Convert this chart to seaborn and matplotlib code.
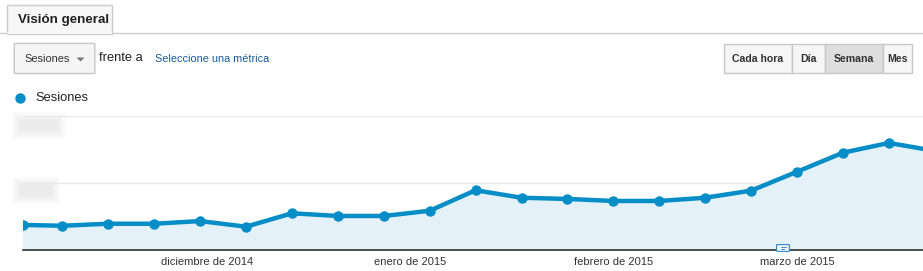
import matplotlib
matplotlib.use("Agg")
import matplotlib.pyplot as plt
from matplotlib.patches import Rectangle, FancyBboxPatch, Polygon
from matplotlib.lines import Line2D
import numpy as np
import pandas as pd
import seaborn as sns

# ---- data ----
week_dates = ["2014-11-03", "2014-11-09", "2014-11-16", "2014-11-23", "2014-11-30",
              "2014-12-07", "2014-12-14", "2014-12-21", "2014-12-28", "2015-01-04",
              "2015-01-11", "2015-01-18", "2015-01-25", "2015-02-01", "2015-02-08",
              "2015-02-15", "2015-02-22", "2015-03-01", "2015-03-08", "2015-03-15",
              "2015-03-22"]
sessions = [187, 181, 196, 196, 216, 174, 274, 254, 254, 293,
            446, 390, 381, 366, 366, 390, 443, 584, 726, 799, 740]
month_ticks = ["2014-12-01", "2015-01-01", "2015-02-01", "2015-03-01"]
month_labels = ["diciembre de 2014", "enero de 2015", "febrero de 2015", "marzo de 2015"]
metric_name = "Sesiones"
tab_title = "Visión general"
buttons = ["Cada hora", "Día", "Semana", "Mes"]

df = pd.DataFrame({"fecha": pd.to_datetime(week_dates), "sesiones": sessions})

W, H = 923, 271
sns.set_theme(style="white")
plt.rcParams["font.family"] = ["Liberation Sans", "DejaVu Sans"]

fig = plt.figure(figsize=(W / 100, H / 100), dpi=100)
fig.patch.set_facecolor("white")

def fx(x):
    return x / W

def fy(y):
    return 1 - y / H

BLUE = "#058DC7"

# ---- chart axes ----
ax_left, ax_right, ax_top, ax_bot = 23, 923, 116, 250
ax = fig.add_axes([fx(ax_left), fy(ax_bot), fx(ax_right - ax_left), (ax_bot - ax_top) / H])
ax.set_facecolor("none")
sns.lineplot(data=df, x="fecha", y="sesiones", ax=ax, color=BLUE, linewidth=3.2,
             marker="o", markersize=7.5, markeredgewidth=0, zorder=5, clip_on=True)
ax.fill_between(df["fecha"], df["sesiones"], 0, color="#E5F1F8", zorder=1)
ax.set_xlim(pd.Timestamp("2014-11-03"), pd.Timestamp("2015-03-20 05:00"))
ax.set_ylim(0, 1000)
ax.set_yticks([500, 1000])
ax.set_yticklabels([])
ax.yaxis.grid(True, color="#E6E6E6", linewidth=1)
ax.tick_params(axis="y", length=0)
ax.set_xticks(pd.to_datetime(month_ticks))
ax.set_xticklabels(month_labels, fontsize=8, color="#333333")
ax.tick_params(axis="x", length=0, pad=5)
ax.set_xlabel("")
ax.set_ylabel("")
for s in ["top", "right", "left"]:
    ax.spines[s].set_visible(False)
ax.spines["bottom"].set_color("#333333")
ax.spines["bottom"].set_linewidth(1.2)
ax.spines["bottom"].set_zorder(6)
ax.set_axisbelow(True)

# blurred y labels (obscured in the reference): soft grey boxes
def soft_box(x0, y0, w, h, feather=5):
    tw, th = int(w + 2 * feather), int(h + 2 * feather)
    yy, xx = np.mgrid[0:th, 0:tw]
    dx = np.minimum(xx + 0.5, tw - xx - 0.5) / (2 * feather)
    dy = np.minimum(yy + 0.5, th - yy - 0.5) / (2 * feather)
    a = np.clip(np.minimum(dx, dy), 0, 1)
    img = np.zeros((th, tw, 4))
    img[..., 0:3] = 0.925
    img[..., 3] = a
    fig.figimage(img, xo=int(x0 - feather), yo=int(H - (y0 + h + feather)), origin="upper", zorder=3)

soft_box(16, 116, 46, 19)
soft_box(16, 181, 40, 19)

# annotation icon (speech bubble)
fig.patches.append(FancyBboxPatch((fx(778), fy(251)), fx(10), 6 / H,
                                  boxstyle="round,pad=0.0015", transform=fig.transFigure,
                                  facecolor="white", edgecolor="#3C8DC9", linewidth=0.9, zorder=7))
fig.add_artist(Line2D([fx(780.5), fx(785.5)], [fy(247), fy(247)], color="#3C8DC9", lw=0.7, zorder=8))
fig.add_artist(Line2D([fx(780.5), fx(784)], [fy(249), fy(249)], color="#3C8DC9", lw=0.7, zorder=8))

# ---- top UI ----
fig.add_artist(Line2D([0, 1], [fy(33), fy(33)], color="#CCCCCC", linewidth=1))
fig.patches.append(Rectangle((fx(7), fy(33.5)), fx(105), 28.5 / H, transform=fig.transFigure,
                             facecolor="#F7F7F7", edgecolor="#CCCCCC", linewidth=1, zorder=2))
fig.add_artist(Line2D([fx(7.6), fx(111.4)], [fy(33), fy(33)], color="#F7F7F7", linewidth=1.4, zorder=3))
fig.text(fx(18), fy(19.5), tab_title, fontsize=9.6, fontweight="bold", color="#222222",
         va="center", ha="left")

# dropdown
fig.patches.append(FancyBboxPatch((fx(16), fy(73)), fx(77), 29 / H, boxstyle="round,pad=0.002",
                                  transform=fig.transFigure, facecolor="#F5F5F5",
                                  edgecolor="#C8C8C8", linewidth=1))
fig.text(fx(24), fy(59), metric_name, fontsize=7.9, color="#333333", va="center", ha="left")
fig.patches.append(Polygon([(fx(76.5), fy(57.5)), (fx(84.5), fy(57.5)), (fx(80.5), fy(61.5))],
                           closed=True, transform=fig.transFigure, facecolor="#777777",
                           edgecolor="none"))
fig.text(fx(99), fy(58), "frente a", fontsize=9.3, color="#222222", va="center", ha="left")
fig.text(fx(155), fy(59), "Seleccione una métrica", fontsize=7.8, color="#1A5B98",
         va="center", ha="left")

# buttons
edges = [724, 792, 825, 883, 912]
for i, lab in enumerate(buttons):
    x0, x1 = edges[i], edges[i + 1]
    fc = "#DEDEDE" if lab == "Semana" else "#F6F6F6"
    fig.patches.append(Rectangle((fx(x0), fy(73)), fx(x1 - x0), 29 / H, transform=fig.transFigure,
                                 facecolor=fc, edgecolor="#C8C8C8", linewidth=1))
    fig.text(fx((x0 + x1) / 2), fy(59), lab, fontsize=7.6, fontweight="bold", color="#333333",
             va="center", ha="center")

# legend
fig.add_artist(Line2D([fx(20)], [fy(98)], marker="o", markersize=7.5, color=BLUE,
                      markeredgewidth=0, linestyle="none"))
fig.text(fx(35), fy(98), metric_name, fontsize=9.3, color="#222222", va="center", ha="left")

fig.savefig("out.png", dpi=100, facecolor="white")
